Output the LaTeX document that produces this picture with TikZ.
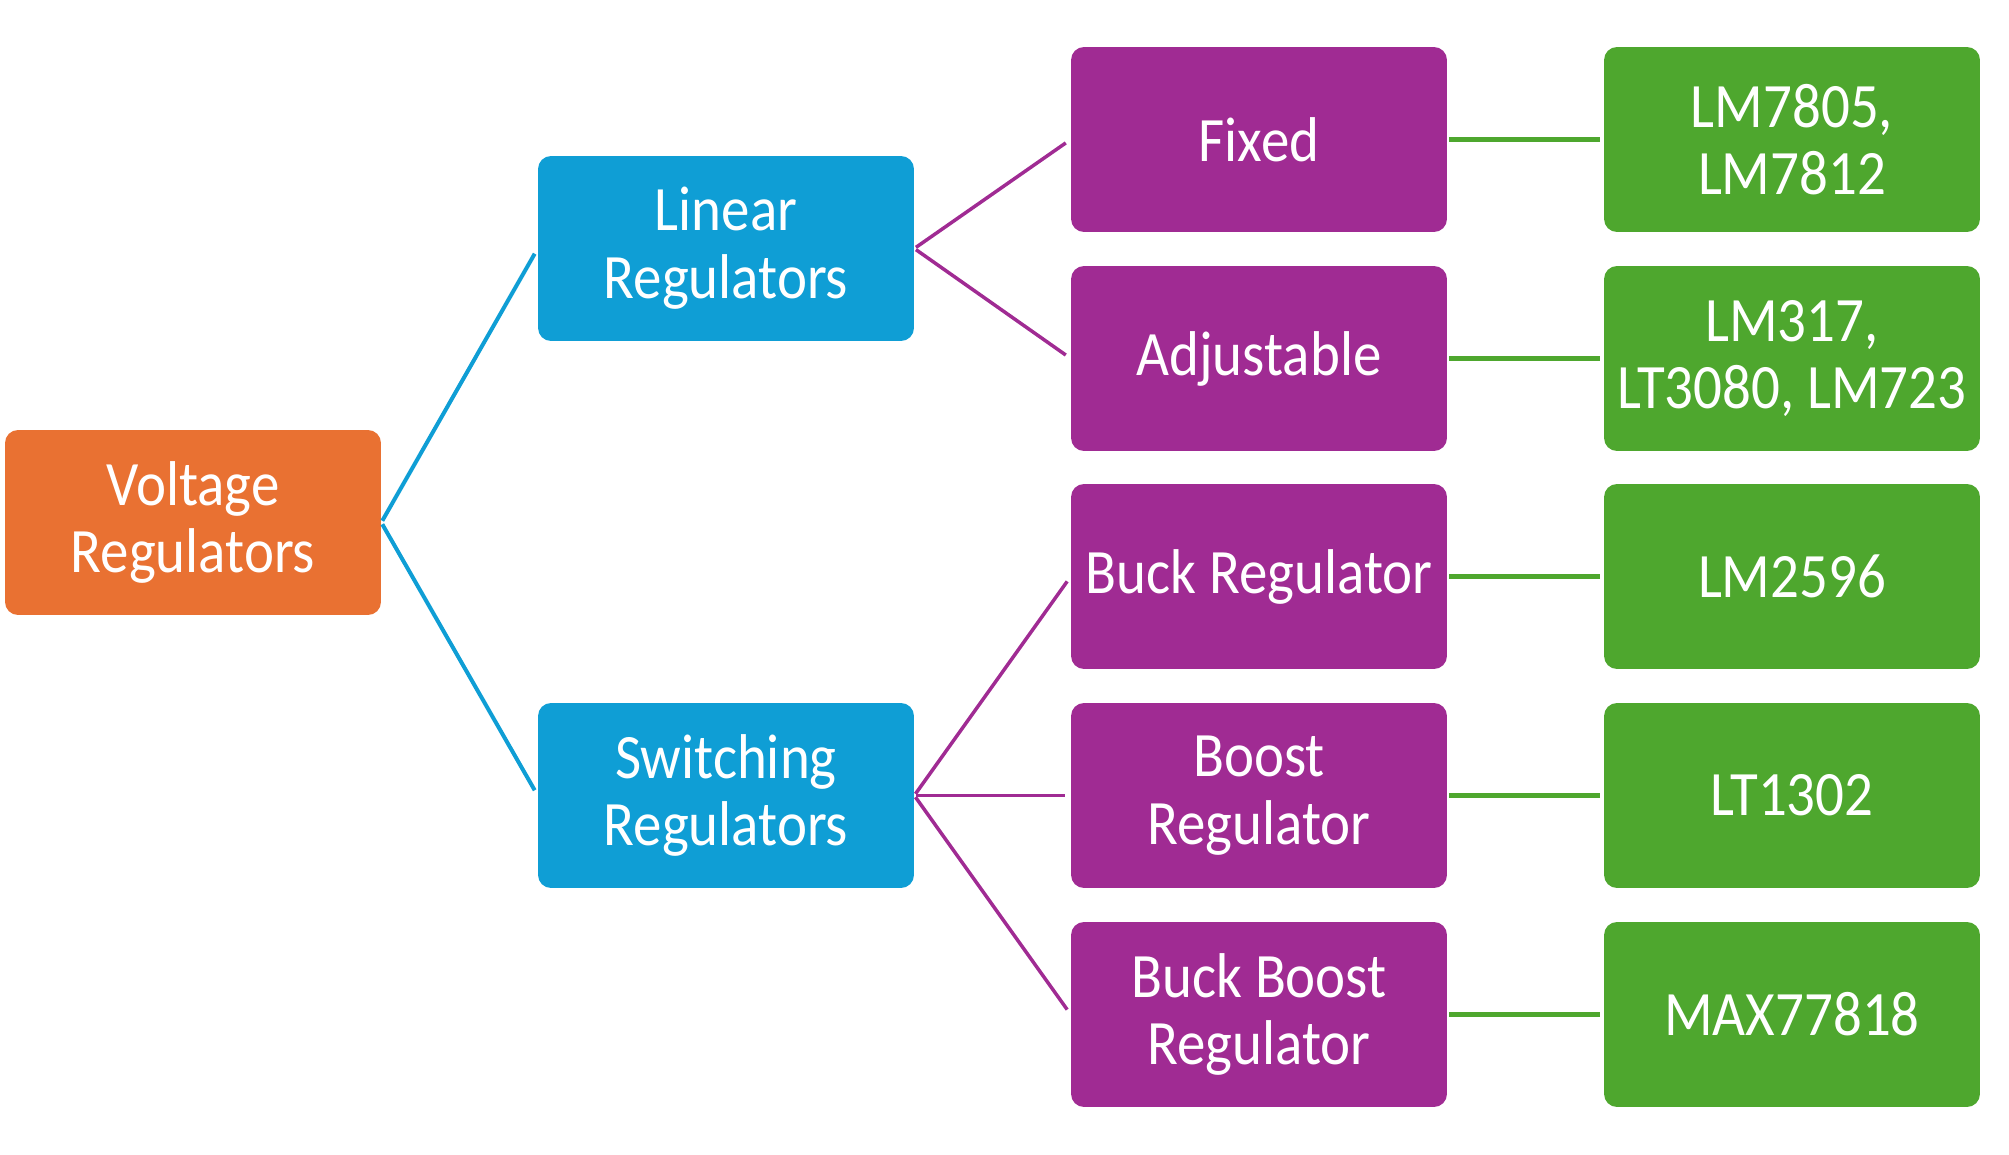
\documentclass[tikz,border=0pt]{standalone}
\usepackage{fontspec}
\setmainfont{Carlito}[FakeStretch=0.9]
\definecolor{vorange}{HTML}{E97132}
\definecolor{vblue}{HTML}{0F9ED5}
\definecolor{vpurple}{HTML}{A02B93}
\definecolor{vgreen}{HTML}{4EA72E}
\tikzset{
  box/.style={rectangle, rounded corners=0.26cm, minimum width=7.52cm, minimum height=3.7cm,
    inner sep=0pt, align=center, text=white, font=\fontsize{36}{38.5}\selectfont},
  orangebox/.style={box, fill=vorange},
  bluebox/.style={box, fill=vblue},
  purplebox/.style={box, fill=vpurple},
  greenbox/.style={box, fill=vgreen},
  blueline/.style={draw=vblue, line width=0.08cm, shorten <=0.04cm, shorten >=0.12cm},
  purpleline/.style={draw=vpurple, line width=0.07cm, shorten <=0.04cm, shorten >=0.12cm},
  greenline/.style={draw=vgreen, line width=0.1cm, shorten <=0.04cm, shorten >=0.08cm}
}
\begin{document}
\begin{tikzpicture}[x=0.02cm, y=-0.02cm]
\useasboundingbox (0,0) rectangle (2009,1155);
\node[orangebox] (volt) at (193,522.5) {Voltage\\Regulators};
\node[bluebox] (lin) at (726,248.5) {Linear\\Regulators};
\node[bluebox] (sw) at (726,795.5) {Switching\\Regulators};
\node[purplebox] (fixed) at (1259,139.5) {Fixed};
\node[purplebox] (adj) at (1259,358.5) {Adjustable};
\node[purplebox] (buck) at (1259,576.5) {Buck Regulator};
\node[purplebox] (boost) at (1259,795.5) {Boost\\Regulator};
\node[purplebox] (bb) at (1259,1014.5) {Buck Boost\\Regulator};
\node[greenbox] (g1) at (1792,139.5) {LM7805,\\LM7812};
\node[greenbox] (g2) at (1792,358.5) {LM317,\\LT3080, LM723};
\node[greenbox] (g3) at (1792,576.5) {LM2596};
\node[greenbox] (g4) at (1792,795.5) {LT1302};
\node[greenbox] (g5) at (1792,1014.5) {MAX77818};
\draw[blueline] (volt.east) -- (lin.west);
\draw[blueline] (volt.east) -- (sw.west);
\draw[purpleline] (lin.east) -- (fixed.west);
\draw[purpleline] (lin.east) -- (adj.west);
\draw[purpleline] (sw.east) -- (buck.west);
\draw[purpleline] (sw.east) -- (boost.west);
\draw[purpleline] (sw.east) -- (bb.west);
\draw[greenline] (fixed.east) -- (g1.west);
\draw[greenline] (adj.east) -- (g2.west);
\draw[greenline] (buck.east) -- (g3.west);
\draw[greenline] (boost.east) -- (g4.west);
\draw[greenline] (bb.east) -- (g5.west);
\end{tikzpicture}
\end{document}
